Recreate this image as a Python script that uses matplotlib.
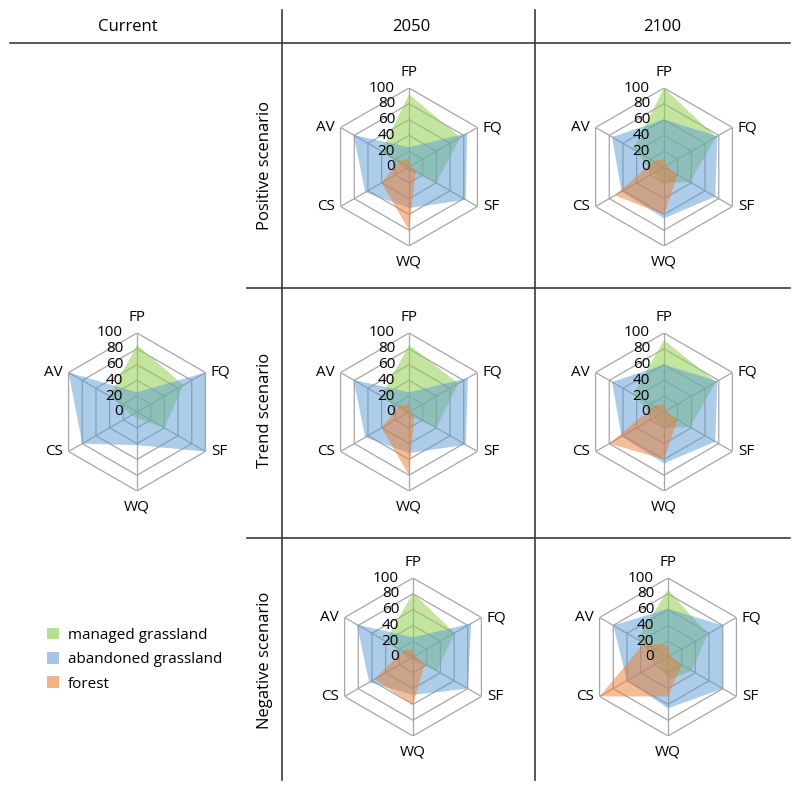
import numpy as np
import matplotlib.pyplot as plt
from matplotlib.lines import Line2D
from matplotlib.patches import Patch

plt.rcParams['font.family'] = ['Open Sans', 'DejaVu Sans']

# ---- data: axes clockwise from top ----
axes_names = ['FP', 'FQ', 'SF', 'WQ', 'CS', 'AV']
series_names = ['managed grassland', 'abandoned grassland', 'forest']

# current
cur_managed = [85, 68, 40, 8, 8, 40]
cur_abandoned = [25, 100, 100, 42, 80, 100]
cur_forest = [0, 0, 0, 0, 0, 0]

# 2050 positive
p50_managed = [92, 75, 40, 5, 5, 40]
p50_abandoned = [25, 85, 83, 52, 64, 81]
p50_forest = [10, 2, 10, 80, 40, 15]

# 2100 positive
p100_managed = [100, 76, 38, 20, 15, 45]
p100_abandoned = [60, 78, 75, 65, 62, 76]
p100_forest = [10, 3, 20, 60, 72, 15]

# 2050 trend
t50_managed = [85, 72, 40, 5, 5, 40]
t50_abandoned = [25, 86, 83, 52, 64, 81]
t50_forest = [10, 2, 8, 80, 40, 15]

# 2100 trend
t100_managed = [91, 76, 38, 20, 15, 45]
t100_abandoned = [60, 78, 75, 65, 62, 76]
t100_forest = [10, 3, 20, 60, 80, 15]

# 2050 negative
n50_managed = [81, 61, 35, 5, 5, 40]
n50_abandoned = [25, 85, 80, 48, 64, 82]
n50_forest = [10, 3, 17, 61, 56, 15]

# 2100 negative
n100_managed = [85, 58, 35, 29, 15, 45]
n100_abandoned = [61, 80, 80, 65, 60, 80]
n100_forest = [15, 3, 20, 50, 100, 35]

col_headers = ['Current', '2050', '2100']
row_headers = ['Positive scenario', 'Trend scenario', 'Negative scenario']

fill_colors = ['#92d050', '#5b9bd5', '#ed7d31']
fill_alpha = [0.55, 0.5, 0.5]

W, H = 800, 789
fig = plt.figure(figsize=(W / 100, H / 100), dpi=100)

R = 79  # radius of one radar in pixels


def radar(cx, cy, data):
    ax = fig.add_axes([(cx - R) / W, 1 - (cy + R) / H, 2 * R / W, 2 * R / H],
                      projection='polar')
    ax.set_theta_offset(np.pi / 2)
    ax.set_theta_direction(-1)
    ax.set_ylim(0, 100)
    ax.grid(False)
    ax.spines['polar'].set_visible(False)
    ax.set_xticks([])
    ax.set_yticks([])
    ax.patch.set_alpha(0)

    ang = np.linspace(0, 2 * np.pi, len(axes_names), endpoint=False)
    ang_c = np.append(ang, ang[0])
    for r in [20, 40, 60, 80, 100]:
        ax.plot(ang_c, [r] * len(ang_c), color='#a6a6a6', lw=0.9, zorder=1)
    for a in ang:
        ax.plot([a, a], [0, 100], color='#a6a6a6', lw=0.9, zorder=1)

    for vals, c, al in zip(data, fill_colors, fill_alpha):
        v = np.append(vals, vals[0])
        ax.fill(ang_c, v, color=c, alpha=al, lw=0, zorder=2)

    offs = {'FP': (0, 6, 'center', 'bottom'), 'FQ': (4, 0, 'left', 'center'),
            'SF': (4, 0, 'left', 'center'), 'WQ': (0, -6, 'center', 'top'),
            'CS': (-4, 0, 'right', 'center'), 'AV': (-4, 0, 'right', 'center')}
    for a, name in zip(ang, axes_names):
        dx, dy, ha, va = offs[name]
        ax.annotate(name, (a, 100), xytext=(dx, dy), textcoords='offset points',
                    ha=ha, va=va, fontsize=11, annotation_clip=False)
    for r in [0, 20, 40, 60, 80, 100]:
        ax.annotate(str(r), (0, r), xytext=(-10, 0), textcoords='offset points',
                    ha='right', va='center', fontsize=11, zorder=3,
                    annotation_clip=False)
    return ax


radar(137, 412, [cur_managed, cur_abandoned, cur_forest])
radar(409, 167, [p50_managed, p50_abandoned, p50_forest])
radar(664, 167, [p100_managed, p100_abandoned, p100_forest])
radar(409, 412, [t50_managed, t50_abandoned, t50_forest])
radar(664, 412, [t100_managed, t100_abandoned, t100_forest])
radar(413, 657, [n50_managed, n50_abandoned, n50_forest])
radar(668, 657, [n100_managed, n100_abandoned, n100_forest])


# ---- table lines ----
def hline(x0, x1, y):
    fig.add_artist(Line2D([x0 / W, x1 / W], [1 - y / H, 1 - y / H], color='#3a3a3a', lw=1.2))


def vline(x, y0, y1):
    fig.add_artist(Line2D([x / W, x / W], [1 - y0 / H, 1 - y1 / H], color='#3a3a3a', lw=1.2))


hline(10, 790, 43)
hline(247, 790, 288)
hline(247, 790, 538)
vline(282, 10, 780)
vline(535, 10, 780)

for x, t in zip([128, 411, 662], col_headers):
    fig.text(x / W, 1 - 27 / H, t, ha='center', va='center', fontsize=12)
for y, t in zip([165, 410, 660], row_headers):
    fig.text(265 / W, 1 - y / H, t, ha='center', va='center', fontsize=12, rotation=90)

legend_colors = ['#b6df8e', '#a4c4e8', '#f4b183']
handles = [Patch(facecolor=c, edgecolor='none') for c in legend_colors]
fig.legend(handles, series_names, loc='upper left', bbox_to_anchor=(33 / W, 1 - 614 / H),
           frameon=False, fontsize=11, handlelength=0.8, handleheight=0.8,
           handletextpad=0.6, labelspacing=0.6)

fig.savefig('out.png', dpi=100)
